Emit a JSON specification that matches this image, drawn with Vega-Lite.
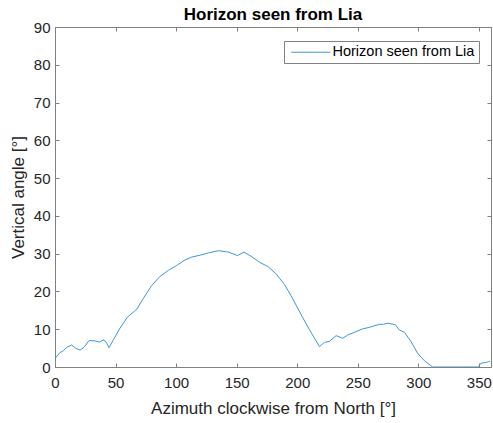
{
  "$schema": "https://vega.github.io/schema/vega-lite/v6.json",
  "width": 436,
  "height": 340,
  "autosize": {"type": "none"},
  "padding": {"left": 55, "top": 27, "right": 2, "bottom": 56},
  "background": "white",
  "title": {"text": "Horizon seen from Lia", "anchor": "middle", "fontSize": 17, "fontWeight": "bold", "font": "Liberation Sans", "color": "#000000", "baseline": "alphabetic", "offset": 6, "dy": 23},
  "config": {
    "view": {"stroke": "#808080", "strokeWidth": 1},
    "axis": {"grid": false, "domainColor": "#808080", "tickColor": "#808080", "labelColor": "#262626", "titleColor": "#262626", "labelFont": "Liberation Sans", "titleFont": "Liberation Sans", "labelFontSize": 15, "titleFontSize": 17, "titleFontWeight": "normal", "tickSize": -4, "labelFlush": false}
  },
  "data": {"values": [
    {"az": 0, "ang": 2.3, "s": "Horizon seen from Lia"},
    {"az": 4.1, "ang": 3.8, "s": "Horizon seen from Lia"},
    {"az": 6.9, "ang": 4.3, "s": "Horizon seen from Lia"},
    {"az": 9.6, "ang": 5.2, "s": "Horizon seen from Lia"},
    {"az": 13.8, "ang": 5.8, "s": "Horizon seen from Lia"},
    {"az": 17.4, "ang": 4.9, "s": "Horizon seen from Lia"},
    {"az": 20.7, "ang": 4.5, "s": "Horizon seen from Lia"},
    {"az": 24, "ang": 5.2, "s": "Horizon seen from Lia"},
    {"az": 28.1, "ang": 7.0, "s": "Horizon seen from Lia"},
    {"az": 33, "ang": 6.9, "s": "Horizon seen from Lia"},
    {"az": 36.6, "ang": 6.6, "s": "Horizon seen from Lia"},
    {"az": 40.5, "ang": 7.2, "s": "Horizon seen from Lia"},
    {"az": 42.7, "ang": 6.3, "s": "Horizon seen from Lia"},
    {"az": 44.6, "ang": 5.1, "s": "Horizon seen from Lia"},
    {"az": 48.2, "ang": 7.2, "s": "Horizon seen from Lia"},
    {"az": 53.7, "ang": 10.3, "s": "Horizon seen from Lia"},
    {"az": 59.8, "ang": 13.2, "s": "Horizon seen from Lia"},
    {"az": 67.5, "ang": 15.3, "s": "Horizon seen from Lia"},
    {"az": 73, "ang": 18.2, "s": "Horizon seen from Lia"},
    {"az": 79.9, "ang": 21.6, "s": "Horizon seen from Lia"},
    {"az": 86.8, "ang": 24.0, "s": "Horizon seen from Lia"},
    {"az": 93.7, "ang": 25.6, "s": "Horizon seen from Lia"},
    {"az": 100.6, "ang": 26.9, "s": "Horizon seen from Lia"},
    {"az": 106.6, "ang": 28.2, "s": "Horizon seen from Lia"},
    {"az": 112.9, "ang": 29.1, "s": "Horizon seen from Lia"},
    {"az": 119.8, "ang": 29.6, "s": "Horizon seen from Lia"},
    {"az": 126.7, "ang": 30.2, "s": "Horizon seen from Lia"},
    {"az": 135, "ang": 30.8, "s": "Horizon seen from Lia"},
    {"az": 143.3, "ang": 30.4, "s": "Horizon seen from Lia"},
    {"az": 150.7, "ang": 29.5, "s": "Horizon seen from Lia"},
    {"az": 156, "ang": 30.4, "s": "Horizon seen from Lia"},
    {"az": 162, "ang": 29.3, "s": "Horizon seen from Lia"},
    {"az": 169, "ang": 27.7, "s": "Horizon seen from Lia"},
    {"az": 175.8, "ang": 26.6, "s": "Horizon seen from Lia"},
    {"az": 182.7, "ang": 24.6, "s": "Horizon seen from Lia"},
    {"az": 189.6, "ang": 21.8, "s": "Horizon seen from Lia"},
    {"az": 196.4, "ang": 18.0, "s": "Horizon seen from Lia"},
    {"az": 203.3, "ang": 13.8, "s": "Horizon seen from Lia"},
    {"az": 210.2, "ang": 9.8, "s": "Horizon seen from Lia"},
    {"az": 218.4, "ang": 5.4, "s": "Horizon seen from Lia"},
    {"az": 222.5, "ang": 6.5, "s": "Horizon seen from Lia"},
    {"az": 226.6, "ang": 6.8, "s": "Horizon seen from Lia"},
    {"az": 232.1, "ang": 8.3, "s": "Horizon seen from Lia"},
    {"az": 237.6, "ang": 7.6, "s": "Horizon seen from Lia"},
    {"az": 241.8, "ang": 8.5, "s": "Horizon seen from Lia"},
    {"az": 247.3, "ang": 9.2, "s": "Horizon seen from Lia"},
    {"az": 254.1, "ang": 10.1, "s": "Horizon seen from Lia"},
    {"az": 259.6, "ang": 10.5, "s": "Horizon seen from Lia"},
    {"az": 267.9, "ang": 11.3, "s": "Horizon seen from Lia"},
    {"az": 271.2, "ang": 11.3, "s": "Horizon seen from Lia"},
    {"az": 274.7, "ang": 11.6, "s": "Horizon seen from Lia"},
    {"az": 281, "ang": 11.2, "s": "Horizon seen from Lia"},
    {"az": 284.3, "ang": 9.8, "s": "Horizon seen from Lia"},
    {"az": 288.5, "ang": 9.2, "s": "Horizon seen from Lia"},
    {"az": 294, "ang": 6.7, "s": "Horizon seen from Lia"},
    {"az": 299.5, "ang": 3.6, "s": "Horizon seen from Lia"},
    {"az": 304.9, "ang": 1.7, "s": "Horizon seen from Lia"},
    {"az": 311.8, "ang": 0, "s": "Horizon seen from Lia"},
    {"az": 349.7, "ang": 0, "s": "Horizon seen from Lia"},
    {"az": 351.6, "ang": 1.0, "s": "Horizon seen from Lia"},
    {"az": 355.8, "ang": 1.2, "s": "Horizon seen from Lia"},
    {"az": 359, "ang": 1.5, "s": "Horizon seen from Lia"}
  ]},
  "layer": [
    {
      "mark": {"type": "line", "strokeWidth": 1, "clip": true},
      "encoding": {
        "x": {"field": "az", "type": "quantitative", "scale": {"domain": [0, 360], "nice": false, "zero": false},
              "axis": {"title": "Azimuth clockwise from North [°]", "values": [0, 50, 100, 150, 200, 250, 300, 350], "labelPadding": 12, "titlePadding": 10}},
        "y": {"field": "ang", "type": "quantitative", "scale": {"domain": [0, 90], "nice": false},
              "axis": {"title": "Vertical angle [°]", "values": [0, 10, 20, 30, 40, 50, 60, 70, 80, 90], "labelPadding": 9, "titlePadding": 6}},
        "color": {"field": "s", "type": "nominal", "scale": {"range": ["#3d97d8"]},
                  "legend": {"title": null, "orient": "none", "legendX": 229, "legendY": 14, "symbolType": "M -1 0 H 9", "symbolSize": 61, "symbolStrokeWidth": 1, "labelFont": "Liberation Sans", "labelFontSize": 14.5, "labelColor": "#000000", "strokeColor": "#808080", "fillColor": "white", "padding": 4, "labelOffset": 30}}
      }
    },
    {
      "mark": {"type": "line", "opacity": 0},
      "encoding": {
        "x": {"field": "az", "type": "quantitative", "axis": {"orient": "top", "labels": false, "title": null, "domain": false, "values": [0, 50, 100, 150, 200, 250, 300, 350]}},
        "y": {"field": "ang", "type": "quantitative", "axis": {"orient": "right", "labels": false, "title": null, "domain": false, "values": [0, 10, 20, 30, 40, 50, 60, 70, 80, 90]}}
      }
    }
  ],
  "resolve": {"axis": {"x": "independent", "y": "independent"}}
}
